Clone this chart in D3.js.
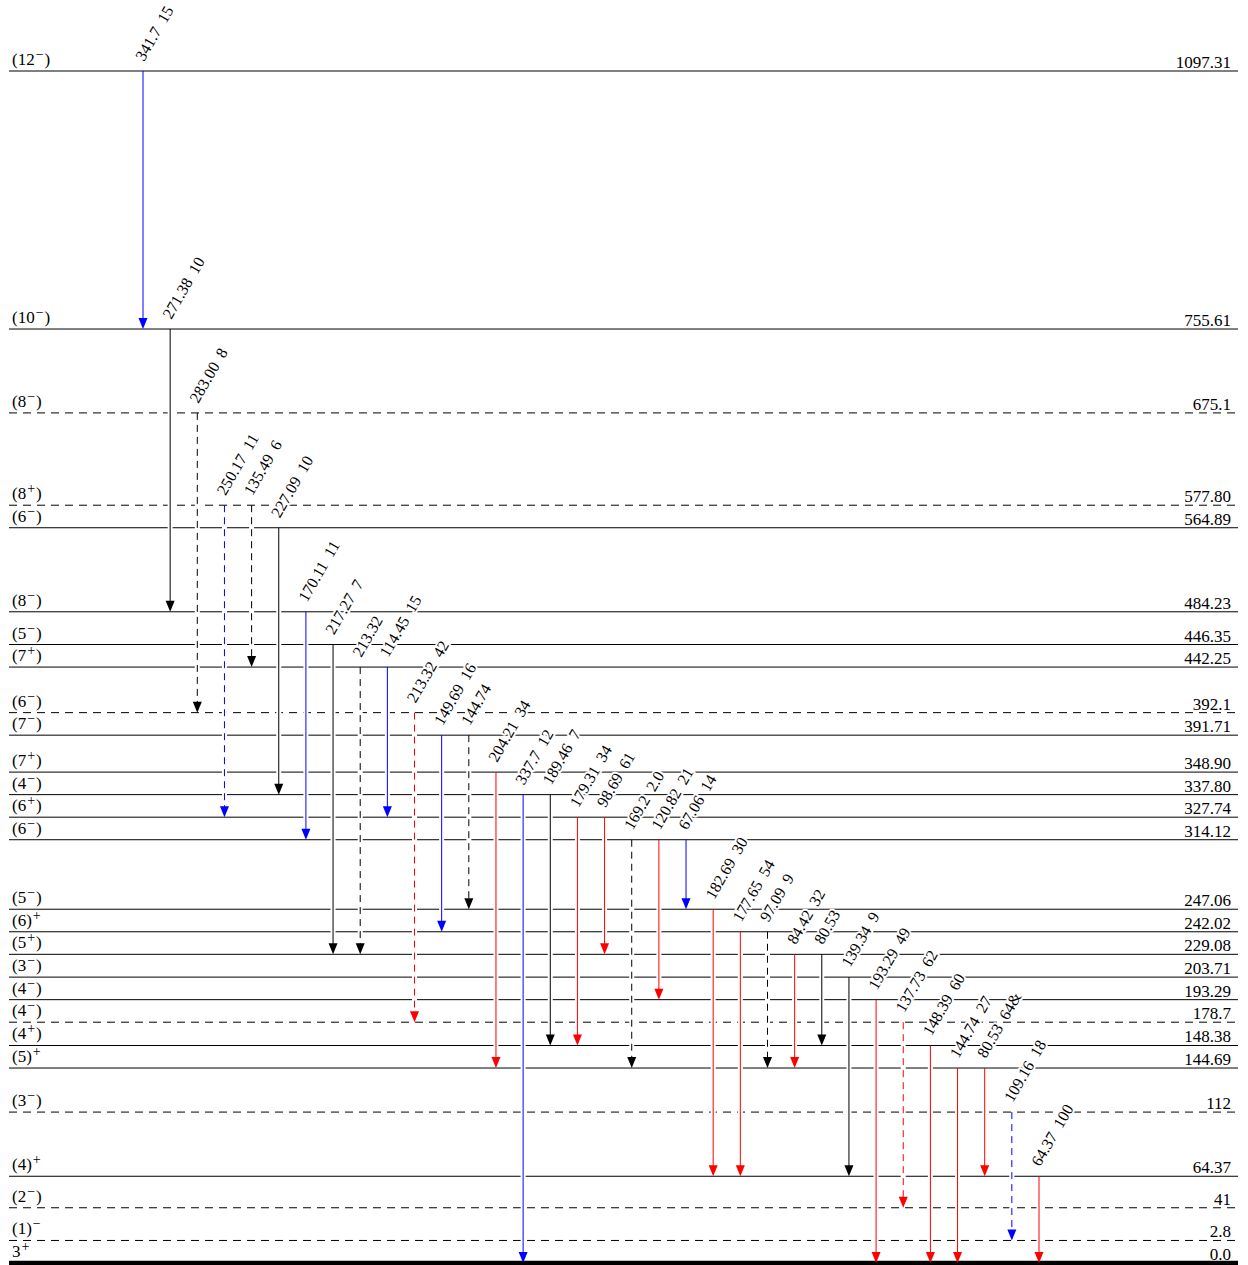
<!DOCTYPE html>
<html>
<head>
<meta charset="utf-8">
<script src="https://cdn.jsdelivr.net/npm/d3@7/dist/d3.min.js"></script>
<style>
  html, body { margin: 0; padding: 0; background: #fff; }
  svg { display: block; }
  text { font-family: "Liberation Serif", "Times New Roman", serif; }
</style>
</head>
<body>
<svg id="scheme" width="1248" height="1265"></svg>
<script>
// ---- Levels (top to bottom) ----
const levelEnergy = [1097.31, 755.61, 675.1, 577.80, 564.89, 484.23, 446.35, 442.25, 392.1, 391.71,
  348.90, 337.80, 327.74, 314.12, 247.06, 242.02, 229.08, 203.71, 193.29, 178.7,
  148.38, 144.69, 112, 64.37, 41, 2.8, 0.0];
const levelLabel = ["1097.31", "755.61", "675.1", "577.80", "564.89", "484.23", "446.35", "442.25", "392.1", "391.71",
  "348.90", "337.80", "327.74", "314.12", "247.06", "242.02", "229.08", "203.71", "193.29", "178.7",
  "148.38", "144.69", "112", "64.37", "41", "2.8", "0.0"];
const levelJpi = ["(12-)", "(10-)", "(8-)", "(8+)", "(6-)", "(8-)", "(5-)", "(7+)", "(6-)", "(7-)",
  "(7+)", "(4-)", "(6+)", "(6-)", "(5-)", "(6)+", "(5+)", "(3-)", "(4-)", "(4-)",
  "(4+)", "(5)+", "(3-)", "(4)+", "(2-)", "(1)-", "3+"];
const levelTentative = [false, false, true, true, false, false, false, false, true, false,
  false, false, false, false, false, false, false, false, false, true,
  false, false, true, false, true, true, false];

// ---- Gamma transitions (left to right) ----
const gammaEnergy = ["341.7", "271.38", "283.00", "250.17", "135.49", "227.09", "170.11", "217.27", "213.32", "114.45",
  "213.32", "149.69", "144.74", "204.21", "337.7", "189.46", "179.31", "98.69", "169.2", "120.82",
  "67.06", "182.69", "177.65", "97.09", "84.42", "80.53", "139.34", "193.29", "137.73", "148.39",
  "144.74", "80.53", "109.16", "64.37"];
const gammaIntensity = ["15", "10", "8", "11", "6", "10", "11", "7", "", "15",
  "42", "16", "", "34", "12", "7", "34", "61", "2.0", "21",
  "14", "30", "54", "9", "32", "", "9", "49", "62", "60",
  "27", "64&", "18", "100"];
const gammaFrom = [1097.31, 755.61, 675.1, 577.80, 577.80, 564.89, 484.23, 446.35, 442.25, 442.25,
  392.1, 391.71, 391.71, 348.90, 337.80, 337.80, 327.74, 327.74, 314.12, 314.12,
  314.12, 247.06, 242.02, 242.02, 229.08, 229.08, 203.71, 193.29, 178.7, 148.38,
  144.69, 144.69, 112, 64.37];
const gammaTo = [755.61, 484.23, 392.1, 327.74, 442.25, 337.80, 314.12, 229.08, 229.08, 327.74,
  178.7, 242.02, 247.06, 144.69, 0.0, 148.38, 148.38, 229.08, 144.69, 193.29,
  247.06, 64.37, 64.37, 144.69, 144.69, 148.38, 64.37, 0.0, 41, 0.0,
  0.0, 64.37, 2.8, 0.0];
const gammaGroup = ["b", "k", "k", "b", "k", "k", "b", "k", "k", "b",
  "r", "b", "k", "r", "b", "k", "r", "r", "k", "r",
  "b", "r", "r", "k", "r", "k", "k", "r", "r", "r",
  "r", "r", "b", "r"];
const gammaTentative = [false, false, true, true, true, false, false, false, true, false,
  true, false, true, false, false, false, false, false, true, false,
  false, false, false, true, false, false, false, false, true, false,
  false, false, true, false];

// ---- Drawing ----
const palette = { r: "#ff0000", b: "#0000ff", k: "#000000" };
const svg = d3.select("#scheme");

// Energy axis: linear at low energy, progressively compressed higher up.
const energyAxis = d3.scaleLinear()
  .domain([0, 480, 760, 1100])
  .range([0, 480 * 1.345, 480 * 1.345 + 280 * 1.04, 480 * 1.345 + 280 * 1.04 + 340 * 0.75]);
// Levels closer than MIN_GAP are pushed upward so their labels stay readable.
const MIN_GAP = 22.5;
const ascending = levelEnergy.map((e, i) => ({ e, i })).sort((a, b) => a.e - b.e);
const layoutPos = new Array(levelEnergy.length);
let prev = -Infinity;
ascending.forEach(d => {
  const p = Math.max(energyAxis(d.e), prev + MIN_GAP);
  layoutPos[d.i] = p;
  prev = p;
});
const y = d3.scaleLinear().domain([0, d3.max(layoutPos)]).range([1263, 71]);
const levelY = new Map(levelEnergy.map((e, i) => [e, y(layoutPos[i])]));

const xLevel = d3.scaleLinear().domain([0, 1]).range([9, 1238]);
const x = d3.scalePoint().domain(d3.range(gammaEnergy.length)).range([143, 1039]);

const levels = levelEnergy.map((e, i) => ({
  e, label: levelLabel[i], jpi: levelJpi[i], dashed: levelTentative[i], y: levelY.get(e), ground: e === 0
}));

const gLevels = svg.append("g");
gLevels.selectAll("line").data(levels).join("line")
  .attr("x1", xLevel(0)).attr("x2", xLevel(1))
  .attr("y1", d => d.y).attr("y2", d => d.y)
  .attr("stroke", "#000")
  .attr("stroke-width", d => d.ground ? 4.5 : 1)
  .attr("stroke-dasharray", d => d.dashed ? "8,6" : null);

// Energy labels on the right
gLevels.selectAll("text.energy").data(levels).join("text")
  .attr("class", "energy")
  .attr("x", 1231).attr("y", d => d.y - 3)
  .attr("text-anchor", "end")
  .attr("font-size", 17)
  .text(d => d.label);

// Spin-parity labels on the left: "(J±)", "(J)±" or "J±"
function jpiParts(s) {
  const m = s.match(/^(\(?)(\d+)(\)?)([+-])(\)?)$/);
  const sign = m[4] === "-" ? "\u2212" : "+";
  if (m[5]) return { pre: "(" + m[2], sup: sign, post: ")" };
  return { pre: m[1] + m[2] + m[3], sup: sign, post: "" };
}
const jl = gLevels.selectAll("text.jpi").data(levels).join("text")
  .attr("class", "jpi")
  .attr("x", 12).attr("y", d => d.y - 6)
  .attr("font-size", 17);
jl.each(function (d) {
  const p = jpiParts(d.jpi);
  const t = d3.select(this);
  t.append("tspan").text(p.pre);
  t.append("tspan").attr("dx", 1).attr("dy", -6).attr("font-size", 14).text(p.sup);
  if (p.post) t.append("tspan").attr("dx", 1).attr("dy", 6).attr("font-size", 17).text(p.post);
});

// Transitions
const gammas = gammaEnergy.map((g, i) => ({
  label: g, inten: gammaIntensity[i], x: x(i),
  y0: levelY.get(gammaFrom[i]), y1: levelY.get(gammaTo[i]),
  color: palette[gammaGroup[i]], dashed: gammaTentative[i]
}));
const AH = 11, AW = 4.5;
const gG = svg.append("g");
// white gap where a transition crosses intermediate levels
gG.selectAll("line.gap").data(gammas).join("line")
  .attr("class", "gap")
  .attr("x1", d => d.x).attr("x2", d => d.x)
  .attr("y1", d => d.y0 + 2).attr("y2", d => d.y1 - AH)
  .attr("stroke", "#fff").attr("stroke-width", 5);
gG.selectAll("line.stem").data(gammas).join("line")
  .attr("class", "stem")
  .attr("x1", d => d.x).attr("x2", d => d.x)
  .attr("y1", d => d.y0).attr("y2", d => d.y1 - AH + 1)
  .attr("stroke", d => d.color).attr("stroke-width", 1)
  .attr("stroke-dasharray", d => d.dashed ? "7,5" : null);
gG.selectAll("path.head").data(gammas).join("path")
  .attr("class", "head")
  .attr("d", d => `M${d.x - AW},${d.y1 - AH}L${d.x + AW},${d.y1 - AH}L${d.x},${d.y1}Z`)
  .attr("fill", d => d.color);

// Rotated energy / intensity labels
gG.selectAll("text.glabel").data(gammas).join("text")
  .attr("class", "glabel")
  .attr("transform", d => `translate(${d.x + 1},${d.y0 - 9}) rotate(-60)`)
  .attr("font-size", 16)
  .attr("stroke", "#fff").attr("stroke-width", 4)
  .attr("stroke-linejoin", "round")
  .style("paint-order", "stroke")
  .attr("fill", "#000")
  .text(d => d.inten ? d.label + "\u00a0\u00a0" + d.inten : d.label);
</script>
</body>
</html>
